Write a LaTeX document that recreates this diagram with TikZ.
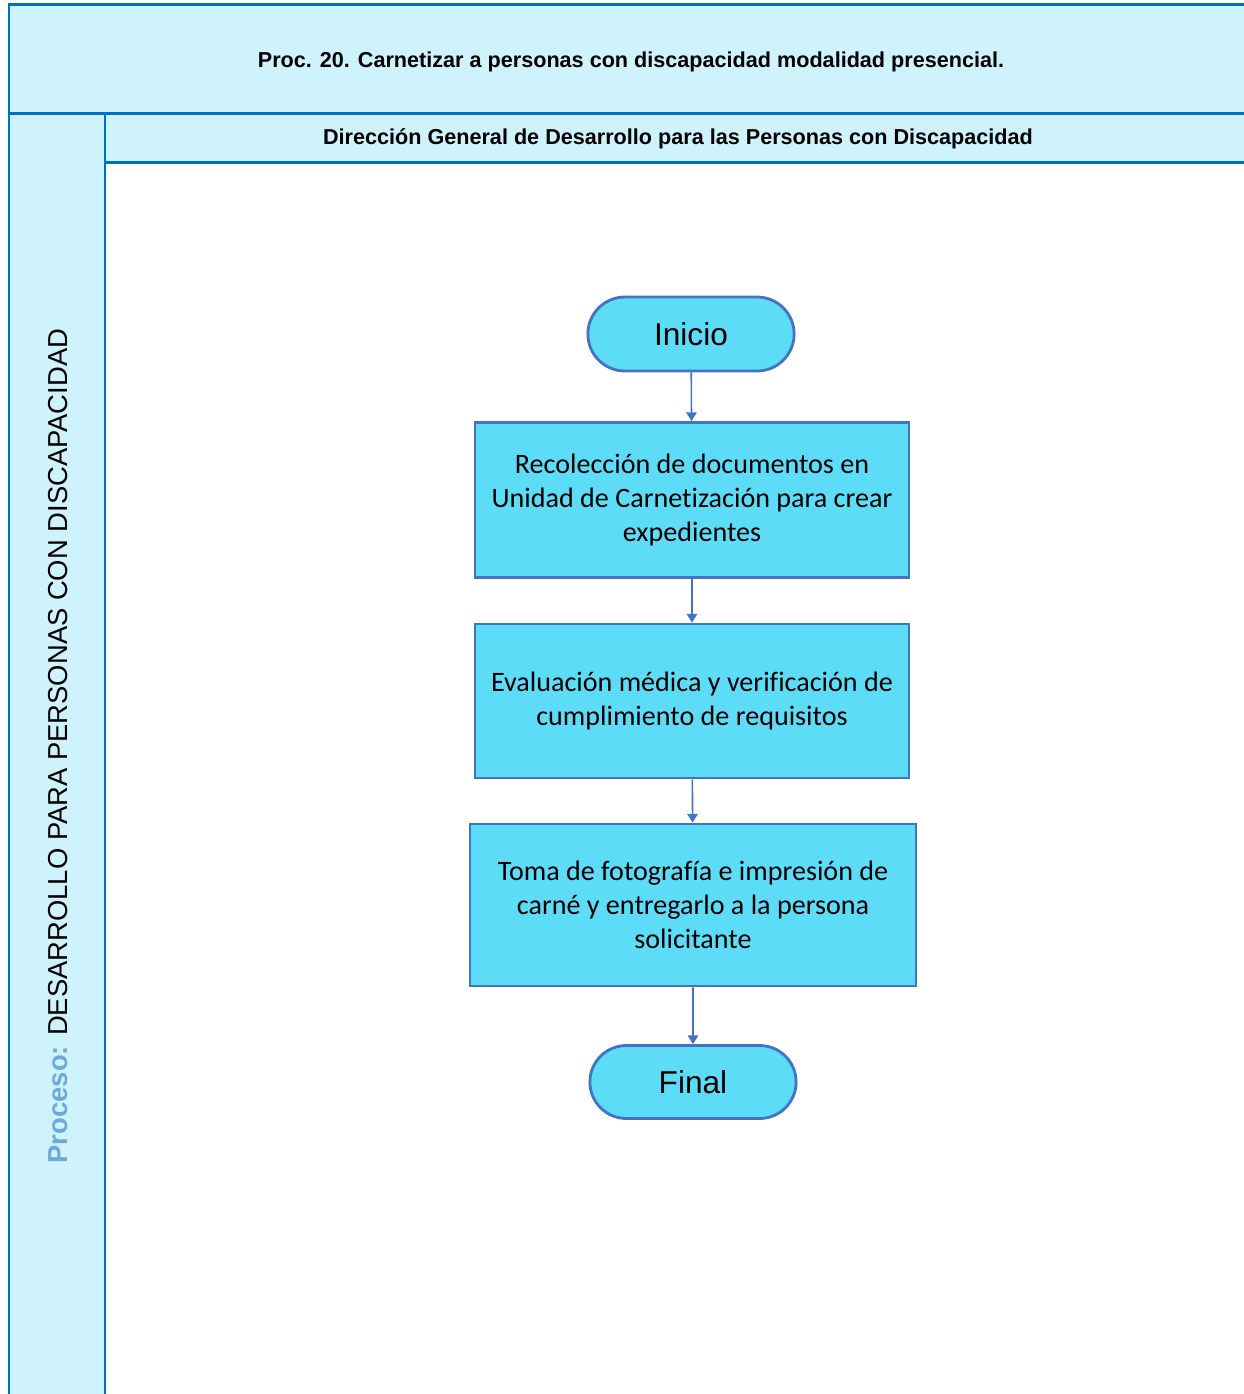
\documentclass[tikz,border=0pt]{standalone}
\usepackage{fontspec}
\setmainfont[Ligatures=NoCommon]{Carlito}
\newfontfamily\arialfont{Liberation Sans}
\usepackage{xcolor}
\usetikzlibrary{arrows.meta, positioning, shapes.misc}

\definecolor{laneline}{HTML}{0070C0}
\definecolor{lanefill}{HTML}{CFF3FC}
\definecolor{boxfill}{HTML}{5DDCF8}
\definecolor{boxline}{HTML}{4472C4}
\definecolor{procblue}{HTML}{6FA8DC}

\begin{document}
\begin{tikzpicture}[
    x=0.02cm, y=-0.02cm,
    lane line/.style={draw=laneline, line width=1.7pt},
    proc box/.style={rectangle, draw=boxline, fill=boxfill, line width=1.6pt, minimum width=8.68cm, minimum height=3.1cm, align=center, font=\fontsize{16}{19.2}\selectfont},
    term node/.style={rounded rectangle, draw=boxline, fill=boxfill, line width=1.6pt, minimum width=4.36cm, minimum height=1.48cm, font=\arialfont\fontsize{18}{21}\selectfont},
    flow arrow/.style={draw=boxline, line width=0.9pt, -{Triangle[length=5pt, width=6pt]}},
    head text/.style={font=\arialfont\bfseries\fontsize{12.3}{14}\selectfont}
]
    \useasboundingbox (0,0) rectangle (1244,1394);
    \clip (0,0) rectangle (1244,1394);

    % Marco del carril
    \fill[lanefill] (9,4) rectangle (1260,113);
    \fill[lanefill] (9,113) rectangle (105,1410);
    \fill[lanefill] (105,113) rectangle (1260,162);
    \draw[lane line] (1260,4) -- (9,4) -- (9,1410);
    \draw[lane line] (9,113) -- (1260,113);
    \draw[lane line] (105,113) -- (105,1410);
    \draw[lane line] (105,162) -- (1260,162);

    % Encabezados
    \node[head text] (titulo) at (631,62) {Proc. 20. Carnetizar a personas con discapacidad modalidad presencial.};
    \node[head text] (direccion) at (678,139) {Dirección General de Desarrollo para las Personas con Discapacidad};
    \node[rotate=90, font=\arialfont\fontsize{15.6}{18}\selectfont] (proceso) at (58,746)
        {\textcolor{procblue}{\bfseries Proceso:} DESARROLLO PARA PERSONAS CON DISCAPACIDAD};

    % Flujo
    \node[term node] (inicio) at (691,334) {Inicio};
    \node[proc box] (recoleccion) at (692,500) {Recolección de documentos en\\Unidad de Carnetización para crear\\expedientes};
    \node[proc box, minimum height=3.08cm] (evaluacion) at (692,701) {Evaluación médica y verificación de\\cumplimiento de requisitos};
    \node[proc box, minimum width=8.92cm, minimum height=3.24cm] (toma) at (693,905) {Toma de fotografía e impresión de\\carné y entregarlo a la persona\\solicitante};
    \node[term node, minimum height=1.46cm] (final) at (693,1082) {Final};

    % Conectores
    \draw[flow arrow] (inicio) -- (recoleccion);
    \draw[flow arrow] (recoleccion) -- (evaluacion);
    \draw[flow arrow] (evaluacion) -- (toma);
    \draw[flow arrow] (toma) -- (final);
\end{tikzpicture}
\end{document}
